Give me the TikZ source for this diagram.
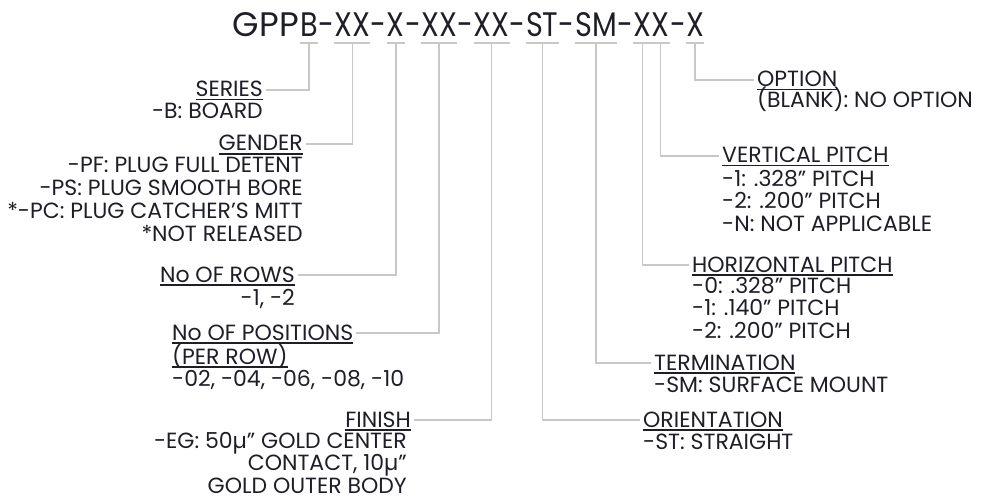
\documentclass[tikz,border=0pt]{standalone}
\usepackage{fontspec}
\setmainfont{Poppins}
\newfontfamily\titlefont[FakeStretch=0.846]{Poppins}
\usetikzlibrary{positioning}
\definecolor{leadgray}{HTML}{C8C8C8}
\definecolor{inkdark}{HTML}{1E1E28}
\newcommand{\udl}[1]{\setbox0=\hbox{#1}\rlap{\rule[-3.5pt]{\wd0}{1.5pt}}\box0}
\newcommand{\rlines}[1]{\begin{tabular}[t]{@{}r@{}}#1\end{tabular}}
\newcommand{\llines}[1]{\begin{tabular}[t]{@{}l@{}}#1\end{tabular}}
\tikzset{
  tseg/.style={inner sep=0pt, text height=24pt, text depth=6pt,
    font=\titlefont\fontsize{34}{40}\selectfont, text=inkdark},
  hdr/.style={inner sep=0pt, text height=15pt, text depth=1pt,
    font=\fontsize{22}{22.5}\selectfont, text=inkdark},
  opts/.style={inner sep=0pt, font=\fontsize{22}{22.5}\selectfont, text=inkdark},
  tick/.style={draw=leadgray, line width=1.5pt},
  lead/.style={draw=leadgray, line width=1.5pt, shorten >=3pt}
}
\begin{document}
\begin{tikzpicture}[x=1pt, y=-1pt]
  \useasboundingbox (0,0) rectangle (983,500);
  % part number
  \node[tseg, anchor=base] (sSer) at (309,37) {B};
  \node[tseg, left=1pt of sSer, font=\fontsize{34}{40}\selectfont] (gpp) {GPP};
  \node[tseg, right=0pt of sSer] (h1) {-};
  \node[tseg, right=0pt of h1] (sGen) {XX};
  \node[tseg, right=0pt of sGen] (h2) {-};
  \node[tseg, right=0pt of h2] (sRow) {X};
  \node[tseg, right=0pt of sRow] (h3) {-};
  \node[tseg, right=0pt of h3] (sPos) {XX};
  \node[tseg, right=0pt of sPos] (h4) {-};
  \node[tseg, right=0pt of h4] (sFin) {XX};
  \node[tseg, right=0pt of sFin] (h5) {-};
  \node[tseg, right=0pt of h5] (sOri) {ST};
  \node[tseg, right=0pt of sOri] (h6) {-};
  \node[tseg, right=0pt of h6] (sTer) {SM};
  \node[tseg, right=0pt of sTer] (h7) {-};
  \node[tseg, right=0pt of h7] (sHx) {X};
  \node[tseg, right=0pt of sHx] (sVx) {X};
  \node[tseg, right=0pt of sVx] (h8) {-};
  \node[tseg, right=0pt of h8] (sOpt) {X};

  % left side fields
  \node[hdr, anchor=base east] (series) at (263,97) {\udl{SERIES}};
  \node[opts, anchor=base east] (seriesopts)
    at ([yshift=-22pt]series.base east) {\rlines{-B: BOARD}};
  \node[hdr, anchor=base east] (gender) at (303,151) {\udl{GENDER}};
  \node[opts, anchor=base east] (genderopts)
    at ([yshift=-22pt]gender.base east)
    {\rlines{-PF: PLUG FULL DETENT\\-PS: PLUG SMOOTH BORE\\{}*-PC: PLUG CATCHER'S MITT\\{}*NOT RELEASED}};
  \node[hdr, anchor=base east] (rows) at (295,282) {\udl{No OF ROWS}};
  \node[opts, anchor=base east] (rowsopts)
    at ([yshift=-23pt]rows.base east) {\rlines{-1, -2}};
  \node[hdr, anchor=base west] (positions) at (172,340) {\udl{No OF POSITIONS}};
  \node[opts, anchor=base west] (positionsopts)
    at ([yshift=-24pt]positions.base west) {\llines{\udl{(PER ROW)}\\-02, -04, -06, -08, -10}};
  \node[hdr, anchor=base east] (finish) at (411,427) {\udl{FINISH}};
  \node[opts, anchor=base east] (finishopts)
    at ([xshift=-4pt, yshift=-21pt]finish.base east)
    {\rlines{-EG: 50µ" GOLD CENTER\\CONTACT, 10µ"\\GOLD OUTER BODY}};

  % right side fields
  \node[hdr, anchor=base west] (option) at (757,87) {\udl{OPTION}};
  \node[opts, anchor=base west] (optionopts)
    at ([yshift=-21pt]option.base west) {\llines{(BLANK): NO OPTION}};
  \node[hdr, anchor=base west] (vpitch) at (722,163) {\udl{VERTICAL PITCH}};
  \node[opts, anchor=base west] (vpitchopts)
    at ([yshift=-23pt]vpitch.base west)
    {\llines{-1: .328" PITCH\\-2: .200" PITCH\\-N: NOT APPLICABLE}};
  \node[hdr, anchor=base west] (hpitch) at (692,272) {\udl{HORIZONTAL PITCH}};
  \node[opts, anchor=base west] (hpitchopts)
    at ([yshift=-21pt]hpitch.base west)
    {\llines{-0: .328" PITCH\\-1: .140" PITCH\\-2: .200" PITCH}};
  \node[hdr, anchor=base west] (termination) at (654,370) {\udl{TERMINATION}};
  \node[opts, anchor=base west] (terminationopts)
    at ([yshift=-22pt]termination.base west) {\llines{-SM: SURFACE MOUNT}};
  \node[hdr, anchor=base west] (orientation) at (643,427) {\udl{ORIENTATION}};
  \node[opts, anchor=base west] (orientationopts)
    at ([yshift=-22pt]orientation.base west) {\llines{-ST: STRAIGHT}};

  % underlines below the code
  \foreach \s in {sSer,sGen,sRow,sPos,sFin,sOri,sTer,sOpt}
    \draw[tick] (\s.south west) -- (\s.south east);
  \draw[tick] (sHx.south west) -- (sVx.south east);

  % leaders
  \draw[lead] (sSer.south) |- (series.east);
  \draw[lead] (sGen.south) |- (gender.east);
  \draw[lead] (sRow.south) |- (rows.east);
  \draw[lead] (sPos.south) |- (positions.east);
  \draw[lead] (sFin.south) |- (finish.east);
  \draw[lead] (sOri.south) |- (orientation.west);
  \draw[lead] (sTer.south) |- (termination.west);
  \draw[lead] (sHx.south) |- (hpitch.west);
  \draw[lead] (sVx.south) |- (vpitch.west);
  \draw[lead] (sOpt.south) |- (option.west);
\end{tikzpicture}
\end{document}
